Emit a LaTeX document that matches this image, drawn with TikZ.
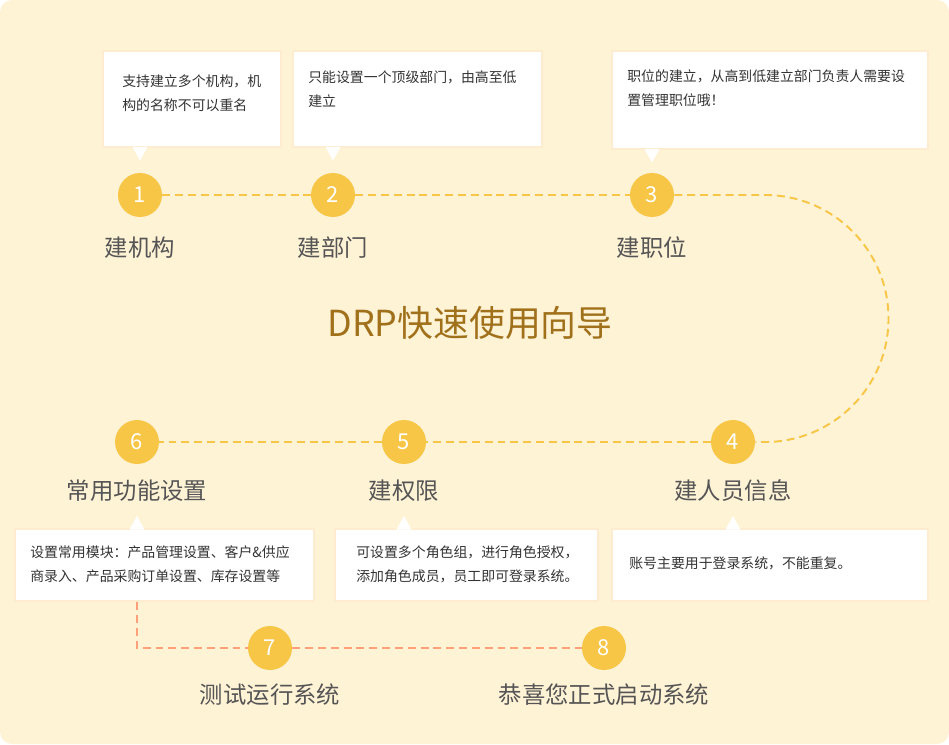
\documentclass[tikz,border=0pt]{standalone}
\usepackage{fontspec}
\setmainfont{Noto Sans CJK SC}
\usepackage{tikz}
\definecolor{DRPcream}{RGB}{255,243,214}
\definecolor{DRPglow}{RGB}{253,236,208}
\definecolor{DRPgold}{RGB}{247,198,70}
\definecolor{DRPsalmon}{RGB}{255,160,122}
\definecolor{DRPbrown}{RGB}{160,112,26}
\definecolor{DRPgrey}{RGB}{85,85,85}
\definecolor{DRPink}{RGB}{51,51,51}

\tikzset{
  dot/.style={circle, fill=DRPgold, text=white, minimum size=0.88cm, inner sep=0pt, font=\fontsize{12.5}{14}\selectfont},
  tag/.style={text=DRPgrey, inner sep=0pt, font=\fontsize{13.3}{16}\selectfont},
  card/.style={rectangle, fill=white, draw=DRPglow, line width=1.4pt, inner sep=0pt, anchor=north west},
  memo/.style={text=DRPink, align=left, anchor=west, inner sep=0pt, font=\fontsize{7.9}{13.6}\selectfont},
  trail/.style={draw=DRPgold, line width=1.1pt, dash pattern=on 4.5pt off 2.8pt},
  trailb/.style={trail, draw=DRPsalmon},
}

\begin{document}
\begin{tikzpicture}[x=0.02cm, y=0.02cm]
	\def\px{0.02cm}
	\fill[DRPcream, rounded corners=0.24cm] (0,0) rectangle (949,-744);

	% steps
	\node[dot] (n1) at (140,-195) {1};
	\node[dot] (n2) at (333,-195) {2};
	\node[dot] (n3) at (652,-195) {3};
	\node[dot] (n4) at (733,-442) {4};
	\node[dot] (n5) at (404,-442) {5};
	\node[dot] (n6) at (137,-442) {6};
	\node[dot] (n7) at (270,-648) {7};
	\node[dot] (n8) at (604,-648) {8};

	\node[tag] (l1) at (140,-248) {建机构};
	\node[tag] (l2) at (333,-248) {建部门};
	\node[tag] (l3) at (652,-248) {建职位};
	\node[tag] (l4) at (733,-491) {建人员信息};
	\node[tag] (l5) at (404,-491) {建权限};
	\node[tag] (l6) at (137,-491) {常用功能设置};
	\node[tag] (l7) at (270,-695) {测试运行系统};
	\node[tag] (l8) at (604,-695) {恭喜您正式启动系统};

	\node[text=DRPbrown, font=\fontsize{20.4}{24}\selectfont] (title) at (470,-323) {DRP快速使用向导};

	% callouts
	\node[card, minimum width=178*\px, minimum height=96*\px] (box1) at (102,-50) {};
	\node[card, minimum width=249*\px, minimum height=96*\px] (box2) at (292,-50) {};
	\node[card, minimum width=316*\px, minimum height=98*\px] (box3) at (611,-50) {};
	\node[card, minimum width=316*\px, minimum height=72*\px] (box4) at (611,-528) {};
	\node[card, minimum width=263*\px, minimum height=72*\px] (box5) at (334,-528) {};
	\node[card, minimum width=299*\px, minimum height=72*\px] (box6) at (14,-528) {};

	\fill[white] (box1.south -| n1) ++(-7.5,1.5) -- ++(7.5,-13.5) -- ++(7.5,13.5) -- cycle;
	\fill[white] (box2.south -| n2) ++(-7.5,1.5) -- ++(7.5,-13.5) -- ++(7.5,13.5) -- cycle;
	\fill[white] (box3.south -| n3) ++(-7.5,1.5) -- ++(7.5,-13.5) -- ++(7.5,13.5) -- cycle;
	\fill[white] (box4.north -| n4) ++(-7.5,-1.5) -- ++(7.5,13.5) -- ++(7.5,-13.5) -- cycle;
	\fill[white] (box5.north -| n5) ++(-7.5,-1.5) -- ++(7.5,13.5) -- ++(7.5,-13.5) -- cycle;
	\fill[white] (box6.north -| n6) ++(-7.5,-1.5) -- ++(7.5,13.5) -- ++(7.5,-13.5) -- cycle;

	\node[memo] (t1) at (122,-93) {支持建立多个机构，机\\构的名称不可以重名};
	\node[memo] (t2) at (308,-89) {只能设置一个顶级部门，由高至低\\建立};
	\node[memo] (t3) at (627,-88) {职位的建立，从高到低建立部门负责人需要设\\置管理职位哦！};
	\node[memo] (t4) at (629,-563) {账号主要用于登录系统，不能重复。};
	\node[memo] (t5) at (356,-564) {可设置多个角色组，进行角色授权，\\添加角色成员，员工即可登录系统。};
	\node[memo] (t6) at (30,-564) {设置常用模块：产品管理设置、客户\&供应\\商录入、产品采购订单设置、库存设置等};

	% dashed route
	\coordinate (bend) at (765,-195);
	\draw[trail] (n1) -- (n2);
	\draw[trail] (n2) -- (n3);
	\draw[trail] (n3) -- (bend) arc[start angle=90, end angle=-90, radius=123.5] -- (n4);
	\draw[trail] (n4) -- (n5);
	\draw[trail] (n5) -- (n6);
	\draw[trailb] (box6.south -| n6) -- (n6 |- n7) -- (n7);
	\draw[trailb] (n7) -- (n8);
\end{tikzpicture}
\end{document}
